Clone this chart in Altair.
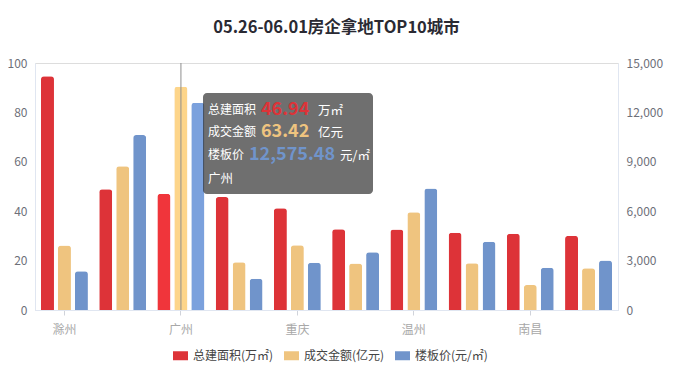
import altair as alt
import pandas as pd

title_text = "05.26-06.01房企拿地TOP10城市"
cities = ["滁州", "杭州", "广州", "苏州", "重庆", "成都", "温州", "宁波", "南昌", "合肥"]
shown_cities = ["滁州", "广州", "重庆", "温州", "南昌"]
series = ["总建面积(万㎡)", "成交金额(亿元)", "楼板价(元/㎡)"]
area = [94.6, 48.9, 46.94, 45.7, 41.2, 32.7, 32.6, 31.3, 30.9, 30.0]
amount = [26.1, 58.2, 90.4, 19.3, 26.2, 18.8, 39.6, 18.9, 10.1, 16.9]
price = [2350, 10620, 12575.48, 1900, 2875, 3510, 7375, 4150, 2570, 3000]
colors = ["#dd3338", "#efc47f", "#7094cb"]
hl_colors = ["#f0353b", "#fdd58a", "#7ba1dd"]
highlight_city = "广州"
tip_labels = ["总建面积", "成交金额", "楼板价"]
tip_values = ["46.94", "63.42", "12,575.48"]
tip_units = ["万㎡", "亿元", "元/㎡"]

FONT = "Noto Sans CJK SC"
W, H = 583, 247

rows = []
for i, c in enumerate(cities):
    rows.append({"city": c, "series": series[0], "value": area[i], "hl": hl_colors[0]})
    rows.append({"city": c, "series": series[1], "value": amount[i], "hl": hl_colors[1]})
    rows.append({"city": c, "series": series[2], "value": price[i], "hl": hl_colors[2]})
df = pd.DataFrame(rows)
df_left = df[df.series != series[2]]
df_right = df[df.series == series[2]]

xenc = alt.X("city:N", scale=alt.Scale(domain=cities, paddingInner=0.194, paddingOuter=0.103),
             axis=alt.Axis(values=shown_cities, labelAngle=0, title=None, tickSize=5,
                           tickColor="#d0d3da", domainColor="#e0e6f1", labelColor="#a8a8a8",
                           labelFontSize=12, labelPadding=9, labelFont=FONT))
xoff = alt.XOffset("series:N", scale=alt.Scale(domain=series, paddingInner=0.235, paddingOuter=0))
color = alt.Color("series:N", scale=alt.Scale(domain=series, range=colors),
                  legend=alt.Legend(title=None, orient="none", legendX=138, legendY=285,
                                    direction="horizontal", symbolType="M-1,-0.6L1,-0.6L1,0.6L-1,0.6Z",
                                    symbolSize=225, symbolOpacity=1, symbolStrokeWidth=0,
                                    labelFontSize=12, labelColor="#444", labelFont=FONT,
                                    columnPadding=10, labelOffset=5))

yleft = alt.Y("value:Q", scale=alt.Scale(domain=[0, 100]),
              axis=alt.Axis(orient="left", values=[0, 20, 40, 60, 80, 100], title=None, ticks=False,
                            grid=False, domainColor="#e0e6f1", labelColor="#6e7079",
                            labelFontSize=12, labelPadding=8, labelFont=FONT))
yright = alt.Y("value:Q", scale=alt.Scale(domain=[0, 15000]),
               axis=alt.Axis(orient="right", values=[0, 3000, 6000, 9000, 12000, 15000],
                             labelExpr="format(datum.value, ',')",
                             title=None, ticks=False, grid=False, domainColor="#e0e6f1",
                             labelColor="#6e7079", labelFontSize=12, labelPadding=8, labelFont=FONT))

bar_kw = dict(cornerRadiusTopLeft=3, cornerRadiusTopRight=3)

left_base = alt.Chart(df_left).mark_bar(**bar_kw).encode(x=xenc, xOffset=xoff, y=yleft, color=color)
left_hl = alt.Chart(df_left).mark_bar(**bar_kw).encode(
    x=xenc, xOffset=xoff, y=yleft, fill=alt.Fill("hl:N", scale=None)
).transform_filter(alt.datum.city == highlight_city)
pointer = alt.Chart(pd.DataFrame({"city": [highlight_city]})).mark_rule(color="#8f8f8f", strokeWidth=1).encode(
    x=xenc, y=alt.Y(datum=0, scale=alt.Scale(domain=[0, 100])), y2=alt.Y2(datum=100))
left = alt.layer(left_base, left_hl, pointer)

right_base = alt.Chart(df_right).mark_bar(**bar_kw).encode(x=xenc, xOffset=xoff, y=yright, color=color)
right_hl = alt.Chart(df_right).mark_bar(**bar_kw).encode(
    x=xenc, xOffset=xoff, y=yright, fill=alt.Fill("hl:N", scale=None)
).transform_filter(alt.datum.city == highlight_city)
right = alt.layer(right_base, right_hl)

# tooltip annotation (plot-relative pixels)
one = pd.DataFrame({"a": [0]})
box = alt.Chart(one).mark_rect(fill="#323232", opacity=0.7, cornerRadius=4).encode(
    x=alt.value(168), x2=alt.value(338), y=alt.value(30), y2=alt.value(131))

tip_layers = [box]
line_y = [46.5, 69, 92]
num_x = [226, 226, 214]
unit_x = [283, 283, 305]
for i in range(3):
    tip_layers.append(alt.Chart(one).mark_text(text=tip_labels[i], font=FONT, fontSize=12, color="#ffffff",
                                               align="left", baseline="middle").encode(
        x=alt.value(173), y=alt.value(line_y[i])))
    tip_layers.append(alt.Chart(one).mark_text(text=tip_values[i], font=FONT, fontSize=18, fontWeight="bold",
                                               color=colors[i], align="left", baseline="middle").encode(
        x=alt.value(num_x[i]), y=alt.value(line_y[i])))
    tip_layers.append(alt.Chart(one).mark_text(text=tip_units[i], font=FONT, fontSize=12.5, color="#ffffff",
                                               align="left", baseline="middle").encode(
        x=alt.value(unit_x[i]), y=alt.value(line_y[i] + 1)))
tip_layers.append(alt.Chart(one).mark_text(text=highlight_city, font=FONT, fontSize=12.5, color="#ffffff",
                                           align="left", baseline="middle").encode(
    x=alt.value(173), y=alt.value(115.5)))

chart = alt.layer(left, right, *tip_layers).resolve_scale(y="independent").properties(
    width=W, height=H,
    title=alt.TitleParams(title_text, fontSize=16.5, fontWeight="bold", color="#2a2a33", font=FONT,
                          anchor="middle", dx=10, offset=21),
    autosize=alt.AutoSizeParams(type="none"),
    padding={"left": 27, "top": 55, "right": 52, "bottom": 62},
).configure_view(stroke=None).configure(font=FONT)

chart.save("out.html", embed_options={"renderer": "svg", "actions": False})
